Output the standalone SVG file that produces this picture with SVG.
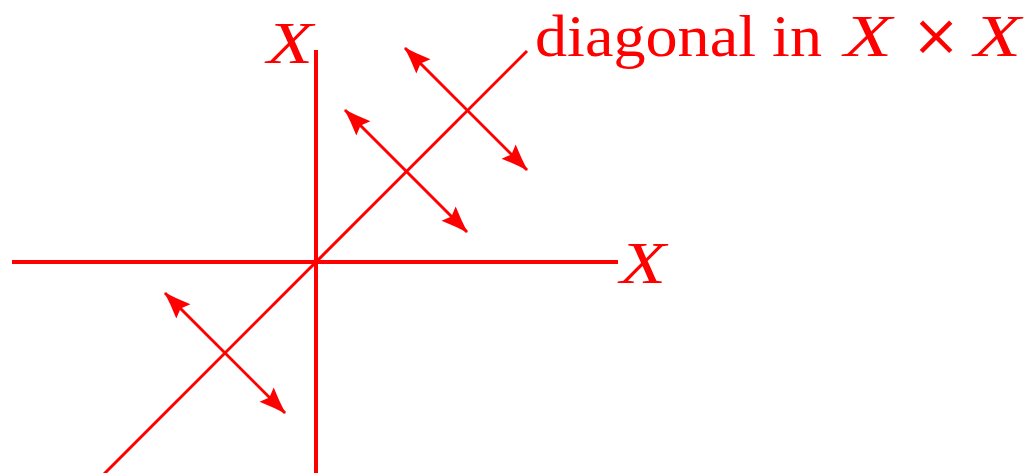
<svg xmlns="http://www.w3.org/2000/svg" width="1030" height="473" viewBox="0 0 1030 473">
<style>
.ax{stroke:#ff0000;stroke-width:4;fill:none}
.ln{stroke:#ff0000;stroke-width:3;fill:none}
.ar{stroke:#ff0000;stroke-width:3;fill:none;marker-start:url(#ah);marker-end:url(#ah)}
.t{fill:#ff0000;font-family:"Liberation Serif","DejaVu Serif",serif;font-size:59px}
.i{font-style:italic}
.m{fill:#ff0000;font-family:"DejaVu Serif",serif;font-size:58px}
</style>
<defs>
<marker id="ah" markerUnits="userSpaceOnUse" viewBox="-27 -13 29 26" markerWidth="29" markerHeight="26" refX="0" refY="0" orient="auto-start-reverse">
<path d="M1,0 Q-12,-4 -26,-10 L-22,0 L-26,10 Q-12,4 1,0 Z" fill="#ff0000"/>
</marker>
</defs>
<g id="axes">
<line id="x-axis" class="ax" x1="12" y1="262" x2="618" y2="262"/>
<line id="y-axis" class="ax" x1="316" y1="50" x2="316" y2="473"/>
</g>
<g id="diagonal">
<line class="ln" x1="104" y1="474" x2="527" y2="51"/>
</g>
<g id="connectors">
<line class="ar" x1="165" y1="293" x2="285" y2="413"/>
<line class="ar" x1="345" y1="110" x2="467" y2="232"/>
<line class="ar" x1="405" y1="48" x2="527" y2="170"/>
</g>
<g id="label-x-top"><text class="t i" x="267" y="63" textLength="46" lengthAdjust="spacingAndGlyphs">X</text></g>
<g id="label-x-right"><text class="t i" x="620" y="283" textLength="46" lengthAdjust="spacingAndGlyphs">X</text></g>
<g id="label-diagonal">
<text class="t" x="535" y="56" textLength="287" lengthAdjust="spacingAndGlyphs">diagonal in</text>
<text class="t i" x="844" y="56" textLength="48" lengthAdjust="spacingAndGlyphs">X</text>
<text class="m" x="936" y="55" text-anchor="middle">×</text>
<text class="t i" x="974" y="56" textLength="47" lengthAdjust="spacingAndGlyphs">X</text>
</g>
</svg>
